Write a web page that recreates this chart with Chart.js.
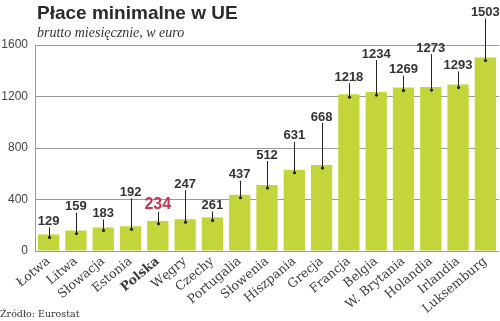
<!DOCTYPE html>
<html>
<head>
<meta charset="utf-8">
<script src="https://cdn.jsdelivr.net/npm/chart.js@4.4.0/dist/chart.umd.min.js"></script>
<style>
  html, body { margin: 0; padding: 0; background: #fff; }
  #wrap { width: 500px; height: 321px; position: relative; }
</style>
</head>
<body>
<div id="wrap"><canvas id="chart" width="500" height="321"></canvas></div>
<script>
// ========================== Data ==========================
const countries = ['Łotwa', 'Litwa', 'Słowacja', 'Estonia', 'Polska', 'Węgry', 'Czechy',
  'Portugalia', 'Słowenia', 'Hiszpania', 'Grecja', 'Francja', 'Belgia', 'W. Brytania',
  'Holandia', 'Irlandia', 'Luksemburg'];
const wages = [129, 159, 183, 192, 234, 247, 261, 437, 512, 631, 668, 1218, 1234, 1269, 1273, 1293, 1503];
const yTicks = [0, 400, 800, 1200, 1600];
// how high above the bar top each value label sits (px)
const labelLift = [13, 24, 14, 34, 15, 35, 12, 20, 30, 34, 48, 17, 38, 18, 39, 19, 45];
const highlight = 'Polska';

const BAR = '#c3d53b';
const TEXT = '#333333';
const RED = '#c8324f';

// value labels with leader lines + title/subtitle/source
const annotate = {
  id: 'annotate',
  afterDatasetsDraw(chart) {
    const ctx = chart.ctx;
    const meta = chart.getDatasetMeta(0);
    ctx.save();
    meta.data.forEach((bar, i) => {
      const isHl = countries[i] === highlight;
      const x = Math.round(bar.x) + 0.5;
      const top = bar.y;
      const cy = top - labelLift[i];
      const dotY = top + 3;
      ctx.strokeStyle = '#222';
      ctx.lineWidth = 1;
      ctx.beginPath();
      ctx.moveTo(x, cy + 6);
      ctx.lineTo(x, dotY);
      ctx.stroke();
      ctx.fillStyle = '#222';
      ctx.beginPath();
      ctx.arc(x, dotY, 1.6, 0, Math.PI * 2);
      ctx.fill();
      ctx.fillStyle = isHl ? RED : TEXT;
      ctx.font = isHl ? 'bold 16px "Liberation Sans", Arial, sans-serif'
                      : 'bold 13px "Liberation Sans", Arial, sans-serif';
      ctx.textAlign = 'center';
      ctx.textBaseline = 'middle';
      ctx.fillText(String(wages[i]), bar.x, cy - (isHl ? 1 : 0));
    });

    ctx.textAlign = 'left';
    ctx.textBaseline = 'alphabetic';
    ctx.fillStyle = '#2b2b2b';
    ctx.font = 'bold 19px "Liberation Sans", Arial, sans-serif';
    ctx.fillText('Płace minimalne w UE', 37, 19);
    ctx.fillStyle = '#333';
    ctx.font = 'italic 14px "Liberation Serif", serif';
    ctx.fillText('brutto miesięcznie, w euro', 37, 37);
    ctx.font = '9.5px "DejaVu Serif", serif';
    ctx.fillText('Źródło: Eurostat', 0, 317);
    ctx.restore();
  }
};

new Chart(document.getElementById('chart'), {
  type: 'bar',
  data: {
    labels: countries,
    datasets: [{
      data: wages,
      backgroundColor: BAR,
      borderWidth: 0,
      barPercentage: 0.78,
      categoryPercentage: 1
    }]
  },
  options: {
    responsive: false,
    animation: false,
    events: [],
    layout: { padding: { top: 45, right: 1, left: 0, bottom: 0 } },
    plugins: { legend: { display: false }, tooltip: { enabled: false } },
    scales: {
      x: {
        grid: { display: false, drawTicks: false },
        border: { display: false },
        ticks: {
          autoSkip: false,
          maxRotation: 40,
          minRotation: 40,
          padding: 3,
          color: '#3a3a3a',
          font: (c) => ({
            family: '"DejaVu Serif", serif',
            size: 12.5,
            weight: countries[c.index] === highlight ? 'bold' : 'normal'
          })
        },
        afterFit(s) { s.height = 70; }
      },
      y: {
        min: 0,
        max: 1600,
        afterBuildTicks(s) { s.ticks = yTicks.map(v => ({ value: v })); },
        grid: { color: '#9a9a9a', lineWidth: 1, drawTicks: false },
        border: { display: true, color: '#9a9a9a' },
        ticks: {
          padding: 7,
          color: '#444',
          font: { family: '"Liberation Sans", Arial, sans-serif', size: 12 },
          callback: (v) => String(v)
        },
        afterFit(s) { s.width = 35; }
      }
    }
  },
  plugins: [annotate]
});
</script>
</body>
</html>
